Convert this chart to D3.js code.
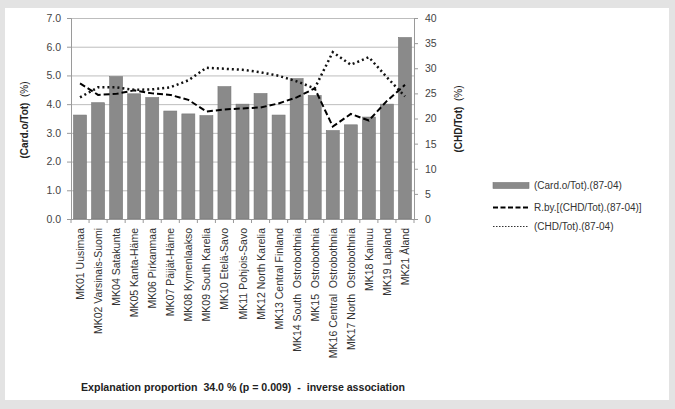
<!DOCTYPE html>
<html><head><meta charset="utf-8">
<script src="https://cdn.jsdelivr.net/npm/d3@7/dist/d3.min.js"></script>
<style>
body{margin:0;background:#e3e3e3;}
svg{display:block;font-family:"Liberation Sans",Arial,sans-serif;}
</style></head>
<body>
<svg id="c" width="675" height="409"></svg>
<script>
const categories = ["MK01 Uusimaa","MK02 Varsinais-Suomi","MK04 Satakunta","MK05 Kanta-Häme","MK06 Pirkanmaa","MK07 Päijät-Häme","MK08 Kymenlaakso","MK09 South Karelia","MK10 Etelä-Savo","MK11 Pohjois-Savo","MK12 North Karelia","MK13 Central Finland","MK14 South  Ostrobothnia","MK15  Ostrobothnia","MK16 Central  Ostrobothnia","MK17 North  Ostrobothnia","MK18 Kainuu","MK19 Lapland","MK21 Åland"];
const cardValues = [3.62,4.05,4.96,4.36,4.23,3.76,3.66,3.60,4.61,4.00,4.37,3.62,4.89,4.30,3.08,3.28,3.55,4.00,6.32];
const regressionValues = [27.0,24.7,24.9,25.6,25.0,24.7,23.7,21.4,21.8,22.0,22.2,23.0,24.2,26.0,18.4,20.9,19.6,23.5,26.7];
const chdValues = [24.2,26.2,26.2,25.7,25.8,26.2,27.6,30.1,29.9,29.7,29.2,28.5,27.4,26.0,33.2,30.7,32.2,28.2,24.4];
const leftTicks = [0,1,2,3,4,5,6,7];
const rightTicks = [0,5,10,15,20,25,30,35,40];
const legendLabels = ["(Card.o/Tot).(87-04)","R.by.[(CHD/Tot).(87-04)]","(CHD/Tot).(87-04)"];
const noteText = "Explanation proportion  34.0 % (p = 0.009)  -  inverse association";

const svg = d3.select("#c");
svg.append("rect").attr("x",5).attr("y",8).attr("width",664).attr("height",392).attr("fill","#fff");

const L = 71, R = 414, T = 18, B = 219;
const x = d3.scaleBand().domain(categories).range([L,R]).paddingInner(0.28).paddingOuter(0.14);
const yL = d3.scaleLinear().domain([0,7]).range([B,T]);
const yR = d3.scaleLinear().domain([0,40]).range([B,T]);

// gridlines
svg.append("g").selectAll("line").data(leftTicks.slice(1)).join("line")
  .attr("x1",L).attr("x2",R).attr("y1",d=>yL(d)+0.5).attr("y2",d=>yL(d)+0.5)
  .attr("stroke","#bdbdbd").attr("stroke-width",1);

// bars
svg.append("g").selectAll("rect").data(cardValues).join("rect")
  .attr("x",(d,i)=>x(categories[i])).attr("width",x.bandwidth())
  .attr("y",d=>yL(d)).attr("height",d=>B-yL(d))
  .attr("fill","#8a8a8a").attr("stroke","#777").attr("stroke-width",0.6);

// axes
const gl = svg.append("g").attr("transform",`translate(${L},0)`)
  .call(d3.axisLeft(yL).tickValues(leftTicks).tickFormat(d3.format(".1f")).tickSize(4).tickPadding(6));
const gr = svg.append("g").attr("transform",`translate(${R},0)`)
  .call(d3.axisRight(yR).tickValues(rightTicks).tickSize(4).tickPadding(7));
[gl,gr].forEach(g=>{
  g.select(".domain").attr("stroke","#9a9a9a");
  g.selectAll(".tick line").attr("stroke","#9a9a9a");
  g.selectAll(".tick text").attr("fill","#444").attr("font-size","10.5px");
});

// x axis
const gx = svg.append("g").attr("transform",`translate(0,${B})`);
gx.append("line").attr("x1",L).attr("x2",R).attr("y1",0.5).attr("y2",0.5).attr("stroke","#9a9a9a");
const step = x.step();
gx.selectAll("line.t").data(d3.range(categories.length+1)).join("line").attr("class","t")
  .attr("x1",i=>L+i*step).attr("x2",i=>L+i*step).attr("y1",0).attr("y2",4).attr("stroke","#9a9a9a");
gx.selectAll("text").data(categories).join("text")
  .attr("transform",d=>`translate(${x(d)+x.bandwidth()/2+4},9) rotate(-90)`)
  .attr("text-anchor","end").attr("font-size","10.5px").attr("fill","#333")
  .style("white-space","pre").text(d=>d);

// lines
const lineL = d3.line().x((d,i)=>x(categories[i])+x.bandwidth()/2).y(d=>yR(d));
svg.append("path").datum(regressionValues).attr("d",lineL).attr("fill","none")
  .attr("stroke","#000").attr("stroke-width",2).attr("stroke-dasharray","6,3");
svg.append("path").datum(chdValues).attr("d",lineL).attr("fill","none")
  .attr("stroke","#111").attr("stroke-width",2.5).attr("stroke-dasharray","2,3");

// axis titles
const lt = svg.append("text").attr("transform","translate(28,120) rotate(-90)")
  .attr("text-anchor","middle").attr("font-size","10px").attr("fill","#222").style("white-space","pre");
lt.append("tspan").attr("font-weight","bold").text("(Card.o/Tot)");
lt.append("tspan").text("  (%)");
const rt = svg.append("text").attr("transform","translate(462,119) rotate(-90)")
  .attr("text-anchor","middle").attr("font-size","10px").attr("fill","#222").style("white-space","pre");
rt.append("tspan").attr("font-weight","bold").text("(CHD/Tot)");
rt.append("tspan").text("  (%)");

// legend
const lg = svg.append("g");
const rowsY = [185.5,207.5,226.5];
lg.append("rect").attr("x",493).attr("y",rowsY[0]-3).attr("width",36).attr("height",6)
  .attr("fill","#8a8a8a").attr("stroke","#777").attr("stroke-width",0.6);
lg.append("line").attr("x1",493).attr("x2",529).attr("y1",rowsY[1]).attr("y2",rowsY[1])
  .attr("stroke","#000").attr("stroke-width",2).attr("stroke-dasharray","5,2.5");
lg.append("line").attr("x1",493).attr("x2",529).attr("y1",rowsY[2]).attr("y2",rowsY[2])
  .attr("stroke","#333").attr("stroke-width",1).attr("stroke-dasharray","1.5,1.5");
lg.selectAll("text").data(legendLabels).join("text")
  .attr("x",534).attr("y",(d,i)=>rowsY[i]+3.5).attr("font-size","10px").attr("fill","#333").text(d=>d);

// note
svg.append("text").attr("x",81).attr("y",391).attr("font-size","10px").attr("font-weight","bold")
  .attr("fill","#222").style("white-space","pre").attr("textLength",324).attr("lengthAdjust","spacingAndGlyphs")
  .text(noteText);
</script>
</body></html>
